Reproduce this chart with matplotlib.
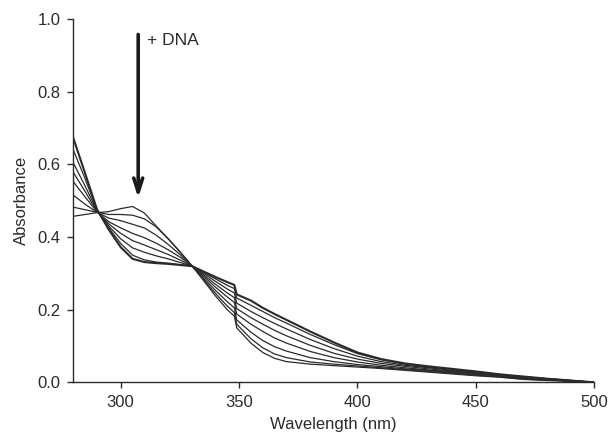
import matplotlib
matplotlib.use("Agg")
import matplotlib.pyplot as plt

plt.rcParams["font.family"] = ["Liberation Sans", "DejaVu Sans"]

# ── Data ─────────────────────────────────────────────────────────────────────
wavelength = [280, 285, 290, 295, 300, 305, 310, 315, 320, 325, 330, 335, 340,
              345, 348, 349, 355, 360, 365, 370, 380, 390, 400, 410, 420, 430,
              440, 450, 460, 470, 480, 490, 500]

# absorbance at each wavelength, one row per wavelength, one column per DNA addition
abs_table = [
    [0.457, 0.482, 0.515, 0.552, 0.578, 0.604, 0.639, 0.672],
    [0.462, 0.475, 0.490, 0.510, 0.525, 0.540, 0.560, 0.575],
    [0.467, 0.468, 0.468, 0.469, 0.470, 0.472, 0.474, 0.476],
    [0.470, 0.462, 0.452, 0.442, 0.436, 0.430, 0.425, 0.420],
    [0.478, 0.462, 0.445, 0.425, 0.410, 0.395, 0.382, 0.372],
    [0.484, 0.460, 0.435, 0.410, 0.390, 0.370, 0.350, 0.340],
    [0.466, 0.450, 0.425, 0.398, 0.378, 0.358, 0.337, 0.331],
    [0.430, 0.428, 0.405, 0.383, 0.365, 0.348, 0.331, 0.328],
    [0.396, 0.395, 0.380, 0.365, 0.352, 0.340, 0.328, 0.326],
    [0.360, 0.359, 0.352, 0.345, 0.337, 0.330, 0.324, 0.323],
    [0.322, 0.321, 0.321, 0.321, 0.320, 0.320, 0.320, 0.320],
    [0.280, 0.283, 0.287, 0.292, 0.296, 0.300, 0.303, 0.305],
    [0.238, 0.245, 0.253, 0.262, 0.270, 0.278, 0.285, 0.290],
    [0.200, 0.210, 0.222, 0.235, 0.246, 0.257, 0.267, 0.276],
    [0.182, 0.192, 0.205, 0.220, 0.233, 0.246, 0.258, 0.268],
    [0.150, 0.160, 0.172, 0.188, 0.203, 0.218, 0.232, 0.242],
    [0.108, 0.120, 0.138, 0.160, 0.178, 0.195, 0.212, 0.225],
    [0.082, 0.095, 0.115, 0.140, 0.160, 0.178, 0.195, 0.205],
    [0.066, 0.078, 0.098, 0.122, 0.143, 0.162, 0.178, 0.188],
    [0.057, 0.068, 0.086, 0.108, 0.128, 0.147, 0.163, 0.172],
    [0.050, 0.056, 0.068, 0.085, 0.102, 0.118, 0.132, 0.140],
    [0.046, 0.050, 0.057, 0.068, 0.080, 0.093, 0.104, 0.110],
    [0.042, 0.045, 0.049, 0.056, 0.064, 0.072, 0.079, 0.082],
    [0.038, 0.040, 0.043, 0.047, 0.052, 0.057, 0.062, 0.064],
    [0.033, 0.035, 0.037, 0.040, 0.044, 0.047, 0.050, 0.052],
    [0.028, 0.030, 0.032, 0.034, 0.037, 0.040, 0.042, 0.044],
    [0.023, 0.025, 0.027, 0.029, 0.031, 0.033, 0.035, 0.037],
    [0.018, 0.020, 0.022, 0.024, 0.026, 0.028, 0.029, 0.030],
    [0.014, 0.015, 0.017, 0.019, 0.020, 0.021, 0.022, 0.022],
    [0.008, 0.009, 0.011, 0.012, 0.014, 0.015, 0.015, 0.016],
    [0.005, 0.006, 0.007, 0.008, 0.009, 0.010, 0.010, 0.010],
    [0.003, 0.003, 0.004, 0.004, 0.005, 0.005, 0.005, 0.005],
    [0.000, 0.000, 0.000, 0.000, 0.000, 0.000, 0.000, 0.000],
]

x_ticks = [300, 350, 400, 450, 500]
y_ticks = [0.0, 0.2, 0.4, 0.6, 0.8, 1.0]

TXT = "#2b2b2b"

# ── Plot ─────────────────────────────────────────────────────────────────────
fig = plt.figure(figsize=(6.09, 4.32), dpi=100)
ax = fig.add_axes([0.1204, 0.1150, 0.8554, 0.8410])

n_curves = len(abs_table[0])
for k in range(n_curves):
    col = [row[k] for row in abs_table]
    lw = 1.5 if k == n_curves - 1 else 0.9
    ax.plot(wavelength, col, color="#2a2a2a", linewidth=lw)

ax.annotate("", xy=(307.4, 0.50), xytext=(307.4, 0.965),
            arrowprops=dict(arrowstyle="->,head_length=1.0,head_width=0.32",
                            color="#1a1a1a", lw=2.6))
ax.text(311, 0.942, "+ DNA", fontsize=12.5, color=TXT, va="center", ha="left")

ax.set_xlim(280, 500)
ax.set_ylim(0, 1.0)
ax.set_xticks(x_ticks)
ax.set_yticks(y_ticks)
ax.set_yticklabels([f"{v:.1f}" for v in y_ticks])
ax.spines["top"].set_visible(False)
ax.spines["right"].set_visible(False)
for s in ("left", "bottom"):
    ax.spines[s].set_linewidth(1.0)
    ax.spines[s].set_color(TXT)
ax.tick_params(direction="out", length=4, width=1, labelsize=12,
               colors=TXT, pad=5)
ax.set_xlabel("Wavelength (nm)", fontsize=12, color=TXT, labelpad=5)
ax.set_ylabel("Absorbance", fontsize=12, color=TXT, labelpad=6)

fig.savefig("out.png", dpi=100)
